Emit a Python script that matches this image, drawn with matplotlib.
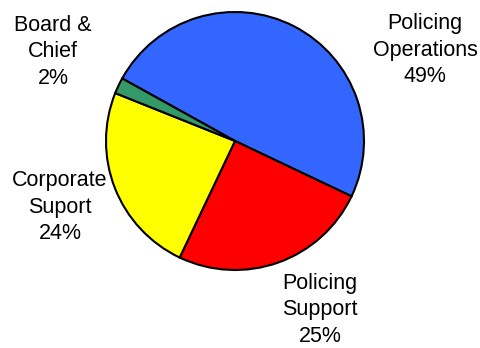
import matplotlib
matplotlib.use("Agg")
import matplotlib.pyplot as plt

categories = ["Policing\nOperations", "Policing\nSupport", "Corporate\nSuport", "Board &\nChief"]
values = [49, 25, 24, 2]
colors = ["#3366FF", "#FF0000", "#FFFF00", "#339966"]
label_pos = [(1.473, 0.705), (0.659, -1.31), (-1.357, -0.512), (-1.411, 0.690)]

plt.rcParams['font.family'] = ['Liberation Sans', 'DejaVu Sans']
fig = plt.figure(figsize=(4.81, 3.48), dpi=100)
ax = fig.add_axes([0, 0, 1, 1])
ax.pie(values, colors=colors, startangle=151, counterclock=False,
       radius=1.0, center=(0, 0),
       wedgeprops=dict(edgecolor="black", linewidth=1.5), frame=False)
ax.set_xlim(-235 / 129, (481 - 235) / 129)
ax.set_ylim(-(348 - 141) / 129, 141 / 129)
ax.set_aspect('auto')
ax.axis('off')
total = sum(values)
for cat, v, (x, y) in zip(categories, values, label_pos):
    ax.text(x, y, f"{cat}\n{round(100 * v / total)}%", ha="center", va="center",
            fontsize=15.5, linespacing=1.36)
fig.savefig("out.png", dpi=100)
